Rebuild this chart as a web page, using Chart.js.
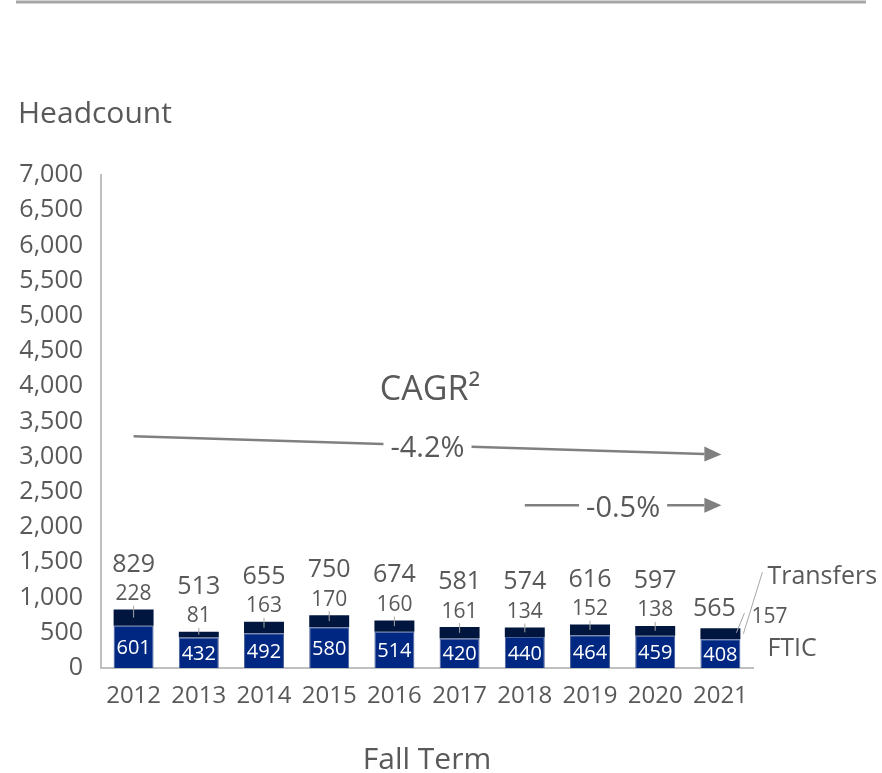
<!DOCTYPE html>
<html lang="en">
<head>
<meta charset="UTF-8" />
<title>Headcount by Fall Term</title>
<script src="https://cdn.jsdelivr.net/npm/chart.js"></script>
<style>
  body { margin: 0; background: #fff; }
  #wrap { width: 882px; height: 773px; position: relative; }
</style>
</head>
<body>
<div id="wrap"><canvas id="headcountChart"></canvas></div>
<script>
  const years = ["2012", "2013", "2014", "2015", "2016", "2017", "2018", "2019", "2020", "2021"];
  const fticCounts = [601, 432, 492, 580, 514, 420, 440, 464, 459, 408];
  const transferCounts = [228, 81, 163, 170, 160, 161, 134, 152, 138, 157];
  const totalCounts = [829, 513, 655, 750, 674, 581, 574, 616, 597, 565];
  const seriesNames = ["FTIC", "Transfers"];
  // CAGR arrows: start year, end year, label
  const cagrFrom = ["2012", "2018"];
  const cagrTo = ["2021", "2021"];
  const cagrText = ["-4.2%", "-0.5%"];

  const TEXT = "#595959";
  const FONT = "'Open Sans', sans-serif";
  Chart.defaults.font.family = FONT;
  Chart.defaults.color = TEXT;

  // draw text with y at the visual middle of digits / caps
  function txt(ctx, s, x, y, size, color, align) {
    ctx.font = size + "px " + FONT;
    ctx.fillStyle = color || TEXT;
    ctx.textAlign = align || "center";
    ctx.textBaseline = "alphabetic";
    ctx.fillText(String(s), x, y + size * 0.357);
  }
  function seg(ctx, x0, y0, x1, y1, color, w) {
    ctx.beginPath();
    ctx.moveTo(x0, y0);
    ctx.lineTo(x1, y1);
    ctx.strokeStyle = color;
    ctx.lineWidth = w;
    ctx.stroke();
  }

  const labelPlugin = {
    id: "barLabels",
    afterDatasetsDraw(chart) {
      const ctx = chart.ctx;
      const fticMeta = chart.getDatasetMeta(0);
      const trMeta = chart.getDatasetMeta(1);
      const last = years.length - 1;
      ctx.save();
      years.forEach((yr, i) => {
        const fb = fticMeta.data[i];
        const tb = trMeta.data[i];
        const x = fb.x;
        const top = tb.y;
        const trMid = (tb.y + tb.base) / 2;
        const fMid = (fb.y + fb.base) / 2;
        txt(ctx, fticCounts[i], x, fMid, 20, "#ffffff");
        if (i < last) {
          txt(ctx, totalCounts[i], x, top - 47, 25);
          txt(ctx, transferCounts[i], x, top - 17, 21);
          seg(ctx, x, top - 4, x, trMid, "#a6a6a6", 1);
        } else {
          txt(ctx, totalCounts[i], x - 6, top - 21, 25);
          txt(ctx, transferCounts[i], x + 31, top - 13, 21, null, "left");
          seg(ctx, x + 16, trMid - 1, x + 24, top - 15, "#a6a6a6", 1);
          // series names on the right
          seg(ctx, x + 23, trMid, x + 42, top - 56, "#a6a6a6", 1);
          txt(ctx, seriesNames[1], x + 47, top - 53, 25, null, "left");
          txt(ctx, seriesNames[0], x + 47, fMid - 7, 25, null, "left");
        }
      });
      ctx.restore();
    },
    afterDraw(chart) {
      const ctx = chart.ctx;
      const xs = chart.scales.x, ys = chart.scales.y;
      const area = chart.chartArea;
      ctx.save();
      // top rule
      seg(ctx, 16, 2, 866, 2, "#a6a6a6", 3);
      txt(ctx, "Headcount", 18, 112, 30, null, "left");
      txt(ctx, "Fall Term", (area.left + area.right) / 2, 758, 30);
      txt(ctx, "CAGR²", 430, 388, 34);

      // arrow heights in data units
      const arrowY = [[3290, 3030], [2310, 2310]];
      cagrText.forEach((label, k) => {
        const x0 = xs.getPixelForValue(years.indexOf(cagrFrom[k]));
        const x1 = xs.getPixelForValue(years.indexOf(cagrTo[k])) + 1;
        const y0 = ys.getPixelForValue(arrowY[k][0]);
        const y1 = ys.getPixelForValue(arrowY[k][1]);
        const head = 17;
        const slope = (y1 - y0) / (x1 - x0);
        const hx = x1 - head, hy = y1 - slope * head;
        seg(ctx, x0, y0, hx, hy, "#808080", 2.5);
        ctx.beginPath();
        ctx.moveTo(x1, y1);
        ctx.lineTo(hx, hy - 7.5);
        ctx.lineTo(hx, hy + 7.5);
        ctx.closePath();
        ctx.fillStyle = "#808080";
        ctx.fill();
        // label over a white gap
        const mx = (x0 + x1) / 2, my = (y0 + y1) / 2;
        ctx.font = "29px " + FONT;
        const w = ctx.measureText(label).width;
        ctx.fillStyle = "#ffffff";
        ctx.fillRect(mx - w / 2 - 7, my - 14, w + 14, 28);
        txt(ctx, label, mx, my + 1, 29);
      });
      ctx.restore();
    }
  };

  new Chart(document.getElementById("headcountChart"), {
    type: "bar",
    data: {
      labels: years,
      datasets: [
        {
          label: seriesNames[0],
          data: fticCounts,
          backgroundColor: "#002883",
          borderColor: "#4a5f99",
          borderWidth: 1,
          barPercentage: 0.613,
          categoryPercentage: 1
        },
        {
          label: seriesNames[1],
          data: transferCounts,
          backgroundColor: "#00163f",
          borderWidth: 0,
          barPercentage: 0.613,
          categoryPercentage: 1
        }
      ]
    },
    options: {
      responsive: true,
      maintainAspectRatio: false,
      animation: false,
      layout: { padding: { top: 175, right: 129, bottom: 0, left: 0 } },
      plugins: {
        legend: { display: false },
        tooltip: { enabled: false }
      },
      scales: {
        x: {
          stacked: true,
          grid: { display: false, drawTicks: false },
          border: { display: true, color: "#bfbfbf", width: 2 },
          ticks: { color: TEXT, font: { size: 24 }, padding: 14, maxRotation: 0 },
          afterFit: (s) => { s.height = 105; }
        },
        y: {
          stacked: true,
          min: 0,
          max: 7000,
          grid: { display: false, drawTicks: false },
          border: { display: true, color: "#bfbfbf", width: 2 },
          ticks: {
            stepSize: 500,
            color: TEXT,
            font: { size: 25 },
            padding: 18,
            callback: (v) => v.toLocaleString("en-US")
          },
          afterFit: (s) => { s.width = 101; }
        }
      }
    },
    plugins: [labelPlugin]
  });
</script>
</body>
</html>
